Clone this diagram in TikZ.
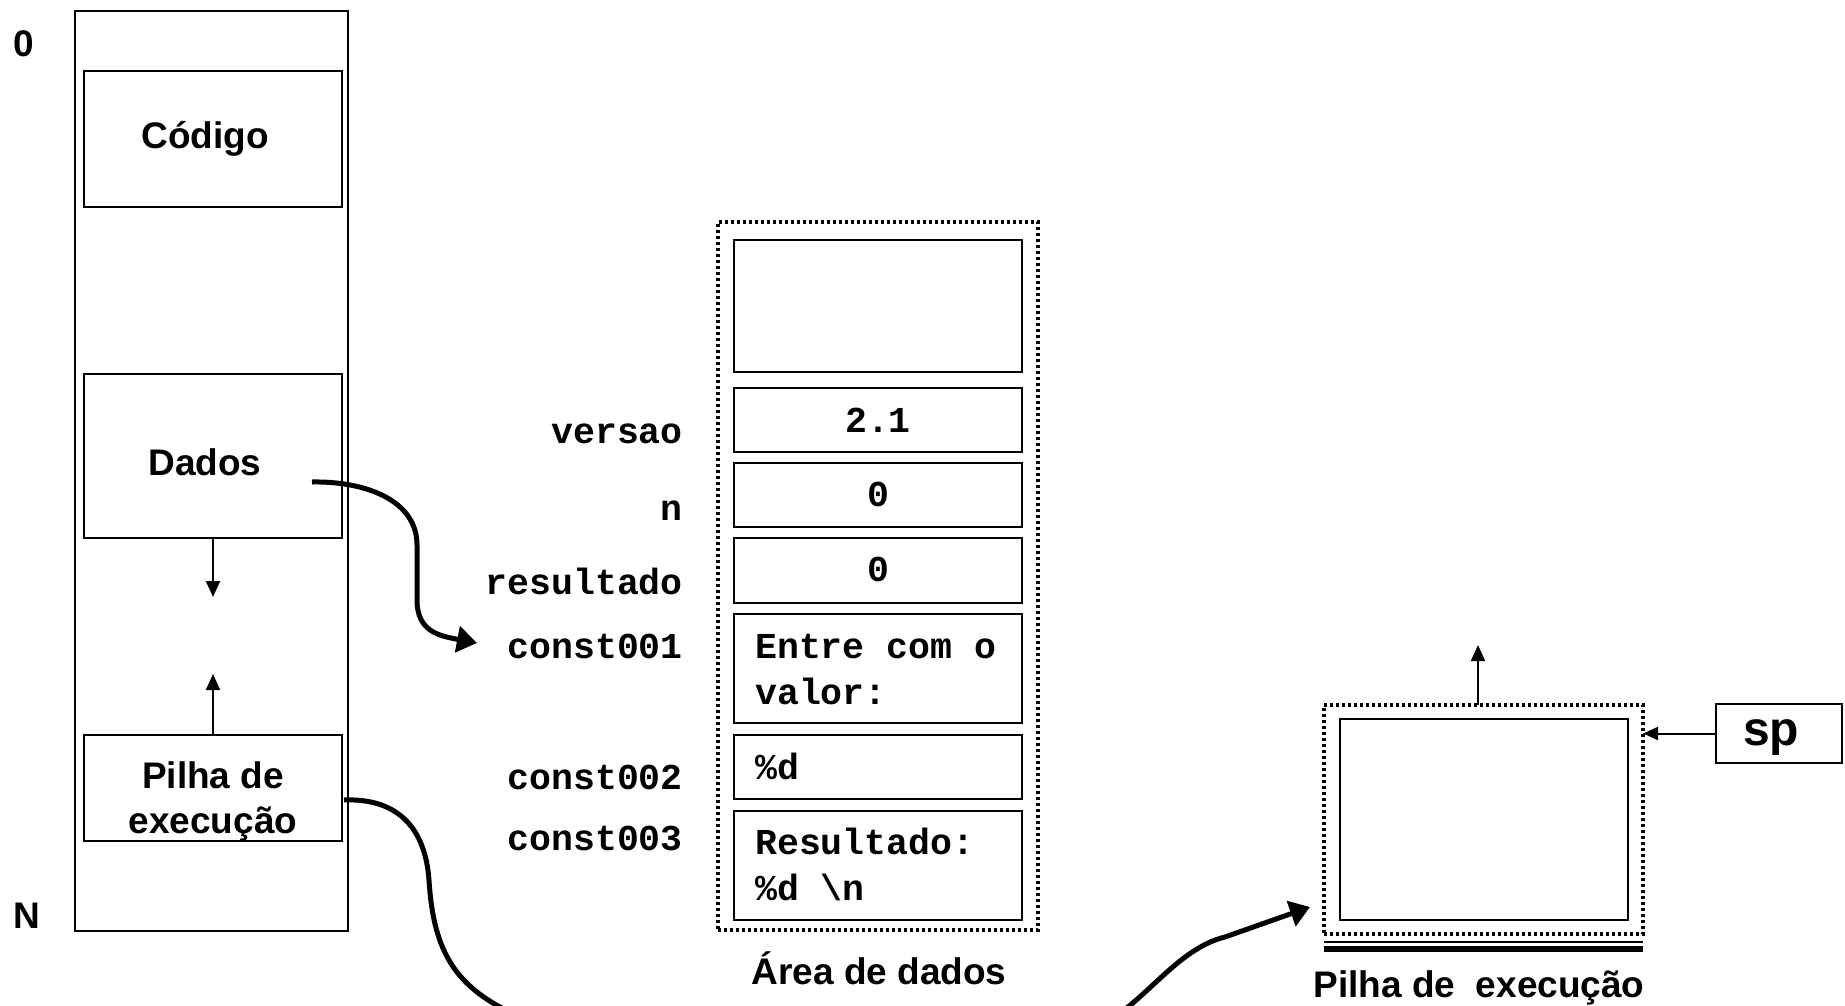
\documentclass[tikz,border=0pt]{standalone}
\usepackage{fontspec}
\setmainfont{Liberation Sans}
\newfontfamily\monofont{Liberation Mono}
\usetikzlibrary{arrows.meta}
\tikzset{
  box/.style={draw, line width=2pt, inner sep=0pt, outer sep=0pt},
  dotbox/.style={draw, line width=3.5pt, dash pattern=on 3pt off 3pt, inner sep=0pt, outer sep=0pt},
  sanslbl/.style={font=\fontsize{37}{45}\selectfont\bfseries, inner sep=0pt, anchor=base, align=center},
  monolbl/.style={font=\fontsize{36.5}{46}\selectfont\monofont\bfseries, inner sep=0pt},
  smallarrow/.style={line width=2pt, -{Triangle[length=16pt,width=14pt]}},
  bigarrow/.style={line width=5pt, -{Triangle[length=20pt,width=26pt]}},
}
\begin{document}
\begin{tikzpicture}[x=1pt,y=-1pt]
\useasboundingbox (0,0) rectangle (1845,1006);
\fill[white] (0,0) rectangle (1845,1006);
\clip (0,0) rectangle (1845,1006);

% ---- left: memory layout
\node[sanslbl] (zero) at (24,57) {0};
\node[sanslbl] (nlbl) at (27,928) {N};
\node[box, minimum width=273pt, minimum height=920pt] (outer) at (211.5,471) {};
\node[box, minimum width=258pt, minimum height=136pt] (codigo) at (213,139) {};
\node[box, minimum width=258pt, minimum height=164pt] (dados) at (213,456) {};
\node[box, minimum width=258pt, minimum height=106pt] (pilha) at (213,788) {};
\node[sanslbl] (tcod) at (205,149) {Código};
\node[sanslbl] (tdad) at (205,475) {Dados};
\node[sanslbl] (tpil) at (213,833) {Pilha de\\execução};
\coordinate (dtip) at (213,597);
\coordinate (ptip) at (213,674);
\draw[smallarrow] (dados.south) -- (dtip);
\draw[smallarrow] (pilha.north) -- (ptip);

% ---- middle: data area
\node[dotbox, minimum width=320pt, minimum height=708pt] (area) at (878,576) {};
\node[box, minimum width=288pt, minimum height=132pt] (c1) at (878,306) {};
\node[box, minimum width=288pt, minimum height=64pt] (c2) at (878,420) {};
\node[box, minimum width=288pt, minimum height=64pt] (c3) at (878,495) {};
\node[box, minimum width=288pt, minimum height=65pt] (c4) at (878,570.5) {};
\node[box, minimum width=288pt, minimum height=109pt] (c5) at (878,668.5) {};
\node[box, minimum width=288pt, minimum height=64pt] (c6) at (878,767) {};
\node[box, minimum width=288pt, minimum height=109pt] (c7) at (878,865.5) {};
\node[monolbl, anchor=base] (v2) at (878,432) {2.1};
\node[monolbl, anchor=base] (v3) at (878,506) {0};
\node[monolbl, anchor=base] (v4) at (878,581) {0};
\node[monolbl, anchor=base west, align=left] (v5) at (755,704) {Entre com o\\valor:};
\node[monolbl, anchor=base west] (v6) at (755,779) {\%d};
\node[monolbl, anchor=base west, align=left] (v7) at (755,900) {Resultado:\\\%d \textbackslash n};
\node[monolbl, anchor=base east] (lversao) at (683,443) {versao};
\node[monolbl, anchor=base east] (ln) at (683,520) {n};
\node[monolbl, anchor=base east] (lres) at (683,594) {resultado};
\node[monolbl, anchor=base east] (lc1) at (683,658) {const001};
\node[monolbl, anchor=base east] (lc2) at (683,789) {const002};
\node[monolbl, anchor=base east] (lc3) at (683,850) {const003};
\node[sanslbl] (tarea) at (879,984) {Área de dados};

% ---- right: execution stack
\node[dotbox, minimum width=319pt, minimum height=229pt] (stack) at (1483.5,819.5) {};
\node[box, minimum width=288pt, minimum height=201pt] (frame) at (1484,819.5) {};
\draw[line width=1.5pt] ([yshift=-8pt]stack.south west) -- ([yshift=-8pt]stack.south east);
\draw[line width=6pt] ([yshift=-15pt]stack.south west) -- ([yshift=-15pt]stack.south east);
\node[sanslbl] (tstack) at (1479,997) {Pilha de~ execução};
\node[box, minimum width=126pt, minimum height=59pt] (sp) at (1779,733.5) {};
\node[font=\fontsize{48}{56}\selectfont\bfseries, inner sep=0pt, anchor=base] (tsp) at (1771,745) {sp};
\coordinate (stip) at (1478,645);
\draw[smallarrow] (stack.north -| stip) -- (stip);
\draw[line width=2pt, -{Triangle[length=15pt,width=13pt]}] (sp.west) -- (stack.east |- sp.west);

% ---- curved connectors
\coordinate (s1) at (312,482);
\coordinate (e1) at (477,643);
\draw[bigarrow] (s1) .. controls (365,481) and (417,500) .. (417,545)
  -- (417,600) .. controls (417,632) and (440,636) .. (e1);
\coordinate (s2) at (344,800);
\coordinate (e2) at (1310,907);
\draw[bigarrow] (s2) .. controls (395,798) and (425,825) .. (429,880)
  .. controls (434,960) and (460,995) .. (540,1025)
  .. controls (700,1080) and (1000,1080) .. (1110,1020)
  .. controls (1150,995) and (1180,948) .. (1225,937) -- (e2);
\end{tikzpicture}
\end{document}
